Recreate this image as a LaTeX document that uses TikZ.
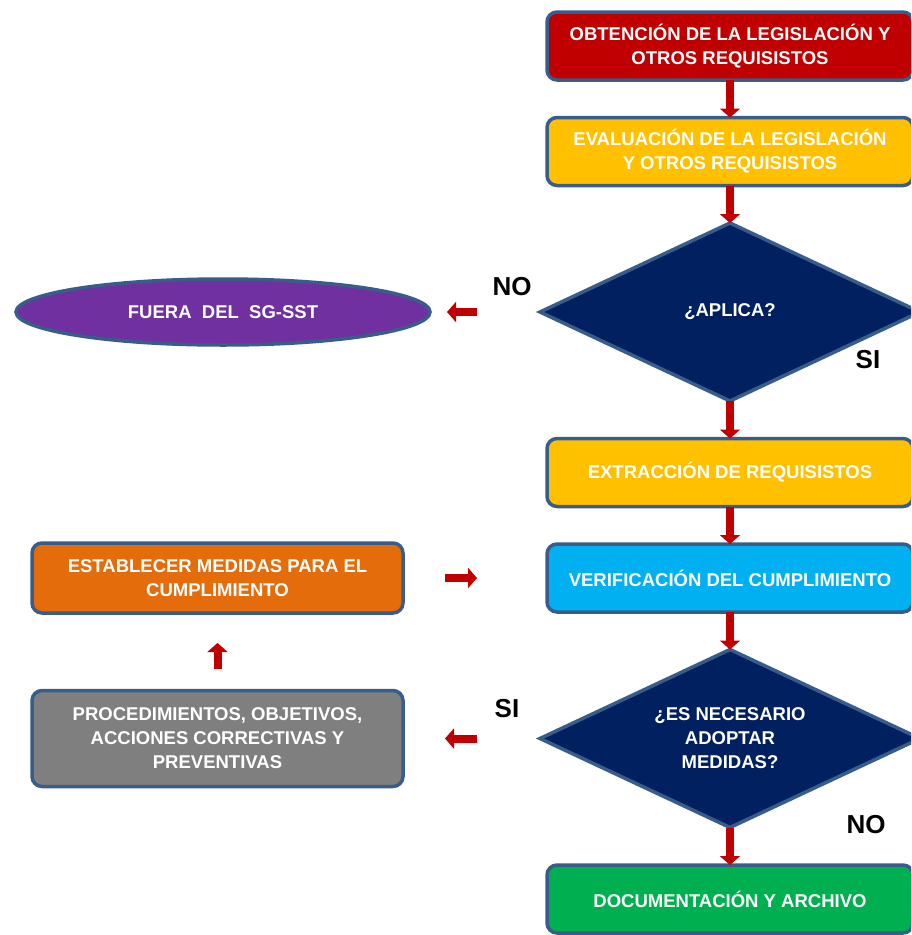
\documentclass[tikz,border=0pt]{standalone}
\usepackage{fontspec}
\setmainfont{Liberation Sans}
\usepackage{tikz}
\usetikzlibrary{arrows.meta}
\usetikzlibrary{positioning}
\usetikzlibrary{shapes.geometric}
\definecolor{rojo}{HTML}{C00000}
\definecolor{amarillo}{HTML}{FFC000}
\definecolor{celeste}{HTML}{00B0F0}
\definecolor{verde}{HTML}{00B050}
\definecolor{naranja}{HTML}{E46C0A}
\definecolor{gris}{HTML}{7F7F7F}
\definecolor{morado}{HTML}{7030A0}
\definecolor{marino}{HTML}{002060}
\definecolor{borde}{HTML}{385D8A}
\begin{document}
\begin{tikzpicture}[x=1pt, y=-1pt, node distance=37.5pt,
		texto/.style={text=white, align=center, outer sep=0pt, font=\bfseries\fontsize{18.5}{24}\selectfont},
		caja/.style={texto, draw=borde, line width=3.5pt, rounded corners=10pt, minimum width=366pt, minimum height=68pt, inner sep=2pt},
		rombo/.style={texto, diamond, aspect=2.1, draw=borde, line width=3.5pt, fill=marino, minimum width=380pt, minimum height=178pt, inner sep=0pt},
		flecha/.style={-{Triangle[width=20pt,length=9pt]}, line width=8pt, draw=rojo},
		resp/.style={font=\bfseries\fontsize{26}{30}\selectfont}]
		\useasboundingbox (0,0) rectangle (911,935);
		\clip (0,0) rectangle (911,935);
		\node (OB) [caja, fill=rojo] at (730,46) {OBTENCIÓN DE LA LEGISLACIÓN Y\\OTROS REQUISISTOS};
		\node (EV) [caja, fill=amarillo, below=of OB] {EVALUACIÓN DE LA LEGISLACIÓN\\Y OTROS REQUISISTOS};
		\node (AP) [rombo, below=of EV] {¿APLICA?};
		\node (EX) [caja, fill=amarillo, below=of AP] {EXTRACCIÓN DE REQUISISTOS};
		\node (VE) [caja, fill=celeste, below=of EX] {VERIFICACIÓN DEL CUMPLIMIENTO};
		\node (ND) [rombo, below=of VE] {¿ES NECESARIO\\ADOPTAR\\MEDIDAS?};
		\node (DO) [caja, fill=verde, below=of ND] {DOCUMENTACIÓN Y ARCHIVO};
		\node (FU) [texto, ellipse, draw=borde, line width=3.5pt, fill=morado, minimum width=414pt, minimum height=66pt, left=110pt of AP] {FUERA\ \ DEL\ \ SG-SST};
		\node (ES) [caja, fill=naranja, minimum width=371pt, minimum height=70pt, left=144pt of VE] {ESTABLECER MEDIDAS PARA EL\\CUMPLIMIENTO};
		\node (PR) [caja, fill=gris, minimum width=371pt, minimum height=96pt, left=137pt of ND] {PROCEDIMIENTOS, OBJETIVOS,\\ACCIONES CORRECTIVAS Y\\PREVENTIVAS};
		\node (no1) [resp] at ([xshift=-28pt,yshift=25pt]AP.west) {NO};
		\node (si1) [resp] at ([xshift=138pt,yshift=41pt]AP.south) {SI};
		\node (si2) [resp] at ([xshift=-33pt,yshift=30pt]ND.west) {SI};
		\node (no2) [resp] at ([xshift=136pt,yshift=3pt]ND.south) {NO};
		\draw[flecha] (OB) -- (EV);
		\draw[flecha] (EV) -- (AP);
		\draw[flecha] (AP) -- (EX);
		\draw[flecha] (EX) -- (VE);
		\draw[flecha] (VE) -- (ND);
		\draw[flecha] (ND) -- (DO);
		\draw[flecha, shorten <=63pt, shorten >=17pt] (AP.west) -- (FU.east);
		\draw[flecha, shorten <=42pt, shorten >=70pt] (ES.east) -- (ES.east -| VE.west);
		\draw[flecha, shorten <=22pt, shorten >=30pt] (PR.north) -- (ES.south);
		\draw[flecha, shorten <=63pt, shorten >=42pt] (ND.west) -- (ND.west -| PR.east);
	\end{tikzpicture}
\end{document}
